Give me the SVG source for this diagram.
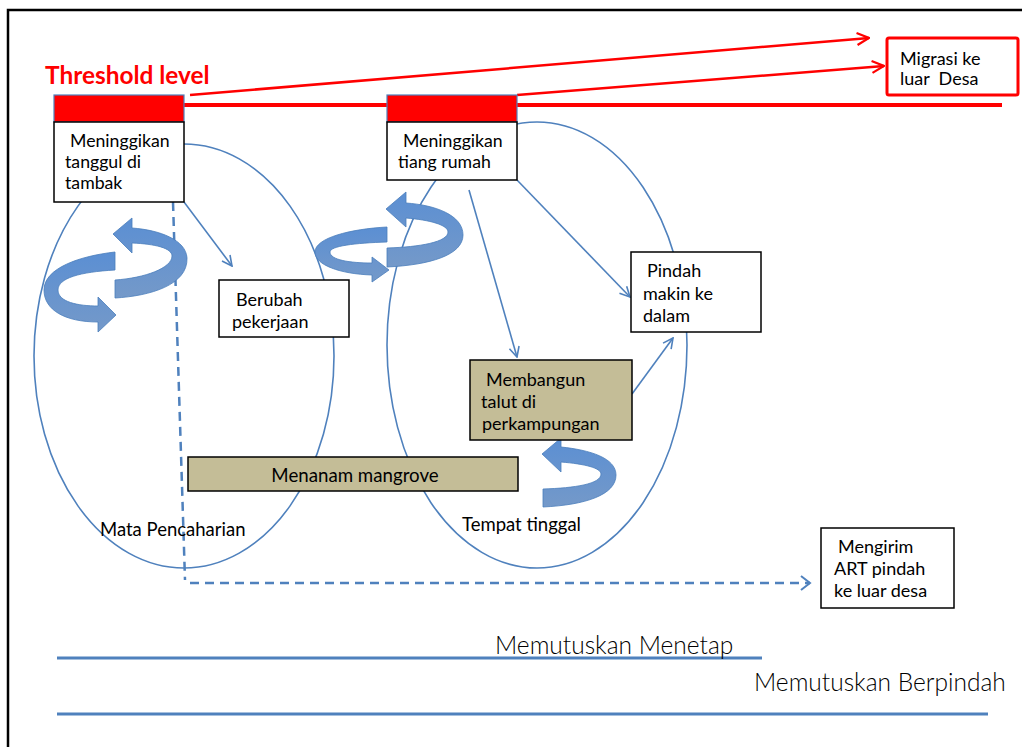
<svg xmlns="http://www.w3.org/2000/svg" width="1022" height="747" viewBox="0 0 1022 747">
<style>
.t{font-family:Lato,"Open Sans","Liberation Sans",sans-serif;font-size:18px;fill:#000;white-space:pre}
.box{fill:#fff;stroke:#000;stroke-width:1.5}
.tan{fill:#c4bd97;stroke:#000;stroke-width:1.5}
.red{fill:#ff0000;stroke:#4f81bd;stroke-width:1.2}
.blue{fill:none;stroke:#4f81bd;stroke-width:1.6}
.rl{fill:none;stroke:#ff0000;stroke-width:2.5}
.ca{fill:url(#g);stroke:#4a7ebb;stroke-width:0.8}
.big{font-family:Lato,"Open Sans","Liberation Sans",sans-serif;font-weight:300;font-size:24.5px;fill:#000}
</style>
<defs>
<linearGradient id="g" x1="0" y1="0" x2="0" y2="1">
<stop offset="0" stop-color="#5b8fd3"/>
<stop offset="1" stop-color="#7499c9"/>
</linearGradient>
<marker id="ab" viewBox="0 0 12 12" refX="11" refY="6" markerWidth="12" markerHeight="12" markerUnits="userSpaceOnUse" orient="auto">
<path d="M1,1 L11,6 L1,11" fill="none" stroke="#4f81bd" stroke-width="1.6"/>
</marker>
<marker id="ar" viewBox="0 0 14 14" refX="13" refY="7" markerWidth="14" markerHeight="14" markerUnits="userSpaceOnUse" orient="auto">
<path d="M1,1 L13,7 L1,13" fill="none" stroke="#ff0000" stroke-width="2.2"/>
</marker>
</defs>
<rect width="1022" height="747" fill="#fff"/>
<!-- frame -->
<path d="M8,747 L8,10 L1022,10" fill="none" stroke="#000" stroke-width="2.5"/>

<!-- ellipses -->
<g id="ellipses">
<ellipse cx="184" cy="356" rx="150" ry="212" class="blue"/>
<ellipse cx="537" cy="345" rx="150" ry="223" class="blue"/>
</g>

<!-- connectors -->
<g id="connectors">
<line x1="184" y1="105" x2="387" y2="105" stroke="#ff0000" stroke-width="4"/>
<line x1="517" y1="105" x2="1002" y2="105" stroke="#ff0000" stroke-width="4"/>
<line x1="190" y1="95" x2="869" y2="38" class="rl" marker-end="url(#ar)"/>
<line x1="517" y1="95" x2="884" y2="66" class="rl" marker-end="url(#ar)"/>
<line x1="184" y1="202" x2="232" y2="266" class="blue" marker-end="url(#ab)"/>
<line x1="469" y1="190" x2="517" y2="357" class="blue" marker-end="url(#ab)"/>
<line x1="517" y1="180" x2="630" y2="297" class="blue" marker-end="url(#ab)"/>
<line x1="632" y1="394" x2="673" y2="338" class="blue" marker-end="url(#ab)"/>
<path d="M173,202 L185,580 M190,583 L810,583" fill="none" stroke="#4f81bd" stroke-width="2.5" stroke-dasharray="9,6"/>
<path d="M801,576 L810,583 L801,590" fill="none" stroke="#4f81bd" stroke-width="2"/>
<line x1="57" y1="658" x2="762" y2="658" stroke="#4f81bd" stroke-width="3"/>
<line x1="57" y1="714" x2="988" y2="714" stroke="#4f81bd" stroke-width="3"/>
</g>

<!-- cycle arrows -->
<g id="cycle1">
<path class="ca" d="M115,252 L115,270 C80,272 58,278 58,290 C58,302 78,306 98,306 L98,297 L116,315 L98,332 L98,322 C65,322 44,310 44,290 C44,268 80,256 115,252 Z"/>
<path class="ca" d="M115,280 L115,298 C150,296 188,285 187,258 C186,240 160,230 132,228 L132,218 L113,234 L132,253 L132,243 C155,244 172,248 172,256 C172,268 145,278 115,280 Z"/>
</g>
<g id="cycle2">
<path class="ca" d="M387,227 L387,242 C355,243 330,246 330,252 C330,260 350,263 372,263 L372,257 L389,270 L372,282 L372,275 C340,274 315,265 315,252 C315,238 350,229 387,227 Z"/>
<path class="ca" d="M387,248 L387,267 C430,265 463,255 463,235 C463,215 435,205 406,203 L406,192 L386,209 L406,227 L406,218 C430,220 448,225 448,232 C448,242 420,247 387,248 Z"/>
</g>
<g id="cycle3">
<path class="ca" d="M543,489 L543,507 C585,505 616,495 616,475 C616,458 590,450 561,447 L561,438 L542,454 L561,472 L561,462 C585,464 601,468 601,474 C601,484 575,488 543,489 Z"/>
</g>

<!-- threshold -->
<g id="threshold">
<text x="45" y="84" font-family="Lato,'Open Sans','Liberation Sans',sans-serif" font-weight="bold" font-size="24.4" fill="#ff0000">Threshold level</text>
</g>

<g id="node-tanggul">
<rect x="54" y="95" width="130" height="27" class="red"/>
<rect x="54" y="122" width="130" height="80" class="box"/>
<text class="t" style="font-size:17.7px"><tspan x="70" y="147">Meninggikan</tspan><tspan x="65" y="168">tanggul di</tspan><tspan x="65" y="189">tambak</tspan></text>
</g>

<g id="node-tiang">
<rect x="387" y="95" width="130" height="27" class="red"/>
<rect x="387" y="122" width="130" height="58" class="box"/>
<text class="t" style="font-size:17.7px"><tspan x="403" y="147">Meninggikan</tspan><tspan x="398" y="168">tiang rumah</tspan></text>
</g>

<g id="node-migrasi">
<rect x="887" y="38" width="131" height="57" rx="2" fill="#fff" stroke="#ff0000" stroke-width="3"/>
<text class="t"><tspan x="900" y="65">Migrasi ke</tspan><tspan x="900" y="85">luar  Desa</tspan></text>
</g>

<g id="node-berubah">
<rect x="219" y="280" width="130" height="57" class="box"/>
<text class="t"><tspan x="236" y="306">Berubah</tspan><tspan x="232" y="328">pekerjaan</tspan></text>
</g>

<g id="node-pindah">
<rect x="631" y="252" width="130" height="80" class="box"/>
<text class="t"><tspan x="647" y="277">Pindah</tspan><tspan x="643" y="300">makin ke</tspan><tspan x="643" y="322">dalam</tspan></text>
</g>

<g id="node-membangun">
<rect x="470" y="360" width="162" height="80" class="tan"/>
<text class="t"><tspan x="486" y="386">Membangun</tspan><tspan x="481" y="408">talut di</tspan><tspan x="482" y="430">perkampungan</tspan></text>
</g>

<g id="node-mangrove">
<rect x="188" y="457" width="330" height="34" class="tan"/>
<text class="t" x="355" y="482" text-anchor="middle" style="font-size:18.7px">Menanam mangrove</text>
</g>

<g id="label-mata">
<text class="t" x="100" y="536" style="font-size:18.5px">Mata Pencaharian</text>
</g>
<g id="label-tempat">
<text class="t" x="462" y="531" style="font-size:18.5px">Tempat tinggal</text>
</g>

<g id="node-mengirim">
<rect x="821" y="528" width="133" height="80" class="box"/>
<text class="t"><tspan x="838" y="553">Mengirim</tspan><tspan x="834" y="575">ART pindah</tspan><tspan x="834" y="597">ke luar desa</tspan></text>
</g>

<g id="label-menetap">
<text class="big" x="495" y="654">Memutuskan Menetap</text>
</g>
<g id="label-berpindah">
<text class="big" x="754" y="691">Memutuskan Berpindah</text>
</g>
</svg>
